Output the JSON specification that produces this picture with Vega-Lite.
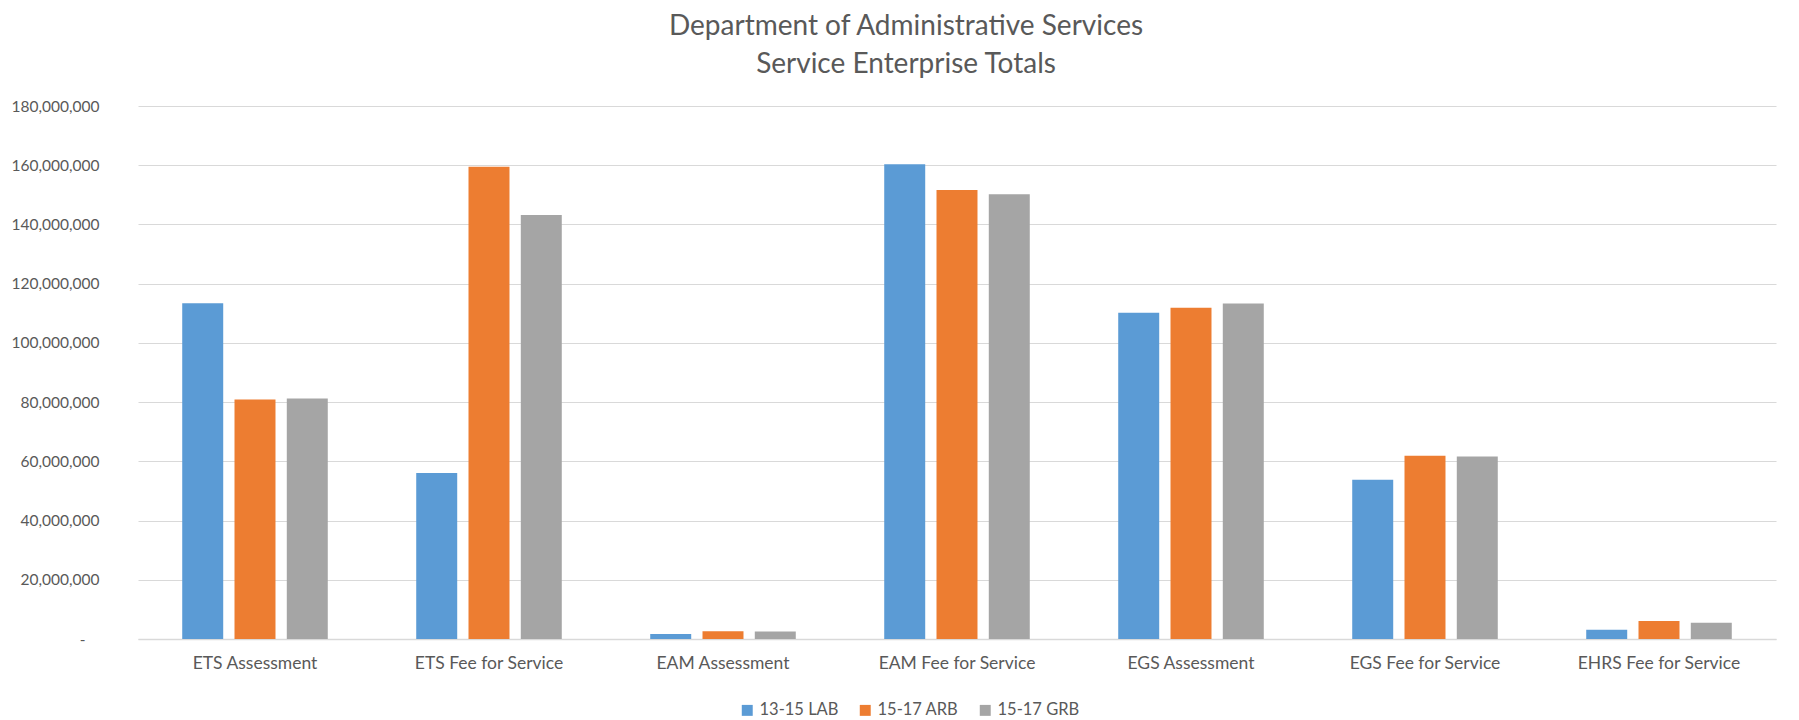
{
  "$schema": "https://vega.github.io/schema/vega-lite/v6.json",
  "autosize": {"type": "none"},
  "width": 1638,
  "height": 533,
  "padding": {"left": 138, "top": 106, "right": 23, "bottom": 81},
  "background": "white",
  "title": {
    "text": ["Department of Administrative Services", "Service Enterprise Totals"],
    "font": "Lato",
    "fontSize": 28,
    "fontWeight": "normal",
    "color": "#595959",
    "lineHeight": 38,
    "anchor": "middle",
    "dx": -51,
    "offset": 20
  },
  "data": {
    "values": [
      {"category": "ETS Assessment", "series": "13-15 LAB", "value": 113400000},
      {"category": "ETS Assessment", "series": "15-17 ARB", "value": 80900000},
      {"category": "ETS Assessment", "series": "15-17 GRB", "value": 81200000},
      {"category": "ETS Fee for Service", "series": "13-15 LAB", "value": 56100000},
      {"category": "ETS Fee for Service", "series": "15-17 ARB", "value": 159500000},
      {"category": "ETS Fee for Service", "series": "15-17 GRB", "value": 143200000},
      {"category": "EAM Assessment", "series": "13-15 LAB", "value": 1700000},
      {"category": "EAM Assessment", "series": "15-17 ARB", "value": 2600000},
      {"category": "EAM Assessment", "series": "15-17 GRB", "value": 2500000},
      {"category": "EAM Fee for Service", "series": "13-15 LAB", "value": 160300000},
      {"category": "EAM Fee for Service", "series": "15-17 ARB", "value": 151600000},
      {"category": "EAM Fee for Service", "series": "15-17 GRB", "value": 150200000},
      {"category": "EGS Assessment", "series": "13-15 LAB", "value": 110200000},
      {"category": "EGS Assessment", "series": "15-17 ARB", "value": 111900000},
      {"category": "EGS Assessment", "series": "15-17 GRB", "value": 113300000},
      {"category": "EGS Fee for Service", "series": "13-15 LAB", "value": 53800000},
      {"category": "EGS Fee for Service", "series": "15-17 ARB", "value": 61900000},
      {"category": "EGS Fee for Service", "series": "15-17 GRB", "value": 61600000},
      {"category": "EHRS Fee for Service", "series": "13-15 LAB", "value": 3100000},
      {"category": "EHRS Fee for Service", "series": "15-17 ARB", "value": 6100000},
      {"category": "EHRS Fee for Service", "series": "15-17 GRB", "value": 5500000}
    ]
  },
  "mark": {"type": "bar"},
  "encoding": {
    "x": {
      "field": "category",
      "type": "nominal",
      "sort": null,
      "scale": {"paddingInner": 0.378, "paddingOuter": 0.189},
      "axis": {
        "title": null,
        "labelAngle": 0,
        "labelFont": "Lato",
        "labelFontSize": 17.5,
        "labelColor": "#595959",
        "labelPadding": 15,
        "labelOverlap": false,
        "ticks": false,
        "domain": true,
        "domainColor": "#D9D9D9",
        "domainWidth": 1.5,
        "grid": false
      }
    },
    "xOffset": {
      "field": "series",
      "type": "nominal",
      "scale": {"paddingInner": 0.216, "paddingOuter": 0}
    },
    "y": {
      "field": "value",
      "type": "quantitative",
      "scale": {"domain": [0, 180000000], "nice": false},
      "axis": {
        "title": null,
        "values": [0, 20000000, 40000000, 60000000, 80000000, 100000000, 120000000, 140000000, 160000000, 180000000],
        "labelExpr": "datum.value === 0 ? '-' : format(datum.value, ',')",
        "labelFont": "Lato",
        "labelFontSize": 15.5,
        "labelColor": "#595959",
        "labelOverlap": false,
        "labelPadding": {"condition": {"test": "datum.value === 0", "value": 53}, "value": 39},
        "ticks": false,
        "domain": false,
        "grid": true,
        "gridColor": "#D9D9D9",
        "gridWidth": 1
      }
    },
    "color": {
      "field": "series",
      "type": "nominal",
      "scale": {
        "domain": ["13-15 LAB", "15-17 ARB", "15-17 GRB"],
        "range": ["#5B9BD5", "#ED7D31", "#A5A5A5"]
      },
      "legend": {
        "title": null,
        "orient": "none",
        "direction": "horizontal",
        "legendX": 601,
        "legendY": 596,
        "symbolType": "square",
        "symbolSize": 120,
        "symbolStrokeWidth": 0,
        "labelFont": "Lato",
        "labelFontSize": 16.5,
        "labelColor": "#595959",
        "columnPadding": 18,
        "labelOffset": 4
      }
    }
  },
  "config": {"view": {"stroke": null}}
}
